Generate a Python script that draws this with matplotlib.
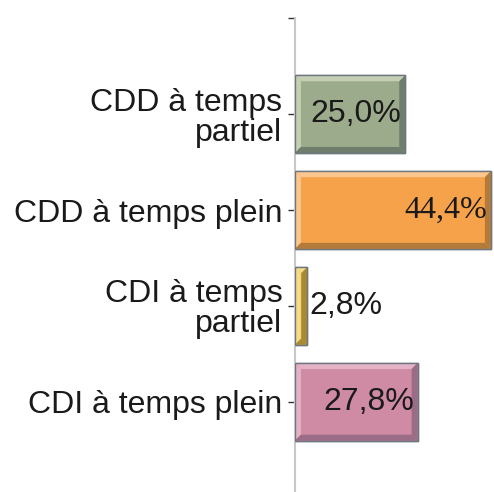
import numpy as np
import matplotlib.pyplot as plt
from matplotlib.patches import Polygon

plt.rcParams['font.serif'] = ['Liberation Serif', 'DejaVu Serif']

# data, bottom to top
categories = ['CDI à temps plein', 'CDI à temps\npartiel', 'CDD à temps plein', 'CDD à temps\npartiel']
values = [27.8, 2.8, 44.4, 25.0]
labels = ['27,8%', '2,8%', '44,4%', '25,0%']

face = ['#cf8ba4', '#e6bd3e', '#f5a24a', '#9cab8b']
light = ['#e3b2c6', '#f3db88', '#fbc78e', '#c5cfb4']
dark = ['#9a6c85', '#a98a32', '#b37a3a', '#6f7d6c']

fig = plt.figure(figsize=(4.94, 4.92), dpi=100)
ax = fig.add_axes([0.597, 0.0, 0.403, 0.963])

y = np.arange(len(categories))
h = 0.81
ax.barh(y, values, height=h, color=face, edgecolor='#6e7680', linewidth=1.0, zorder=2)

ax.set_xlim(0, 45.1)
ax.set_ylim(-0.94, 4)

# bevel effect, ~6 px wide
bx = 45.1 / (0.403 * 494) * 6
by = 4.94 / (0.963 * 492) * 6
for yi, v, lc, dc in zip(y, values, light, dark):
    x0, x1 = 0, v
    y0, y1 = yi - h / 2, yi + h / 2
    b = min(bx, v / 2)
    ax.add_patch(Polygon([(x0, y1), (x1, y1), (x1 - b, y1 - by), (x0 + b, y1 - by)], closed=True, color=lc, lw=0, zorder=3))
    ax.add_patch(Polygon([(x0, y0), (x0, y1), (x0 + b, y1 - by), (x0 + b, y0 + by)], closed=True, color=lc, lw=0, zorder=3))
    ax.add_patch(Polygon([(x0, y0), (x1, y0), (x1 - b, y0 + by), (x0 + b, y0 + by)], closed=True, color=dc, lw=0, zorder=3))
    ax.add_patch(Polygon([(x1, y0), (x1, y1), (x1 - b, y1 - by), (x1 - b, y0 + by)], closed=True, color=dc, lw=0, zorder=3))
    ax.add_patch(plt.Rectangle((x0, y0), v, h, fill=False, ec='#6e7680', lw=1.0, zorder=4))

for yi, v, t in zip(y, values, labels):
    if v > 10:
        txt = ax.text(v - 0.9, yi, t, ha='right', va='center', fontsize=23, color='#1a1a1a', zorder=5)
        if v > 40:
            txt.set_fontfamily('serif')
        else:
            txt.set_fontfamily('Liberation Sans')
    else:
        ax.text(v + 0.4, yi, t, ha='left', va='center', fontsize=23, color='#1a1a1a',
                fontfamily='Liberation Sans', zorder=5)

ax.set_yticks(list(y) + [4])
ax.set_yticklabels(categories + [''], fontsize=23, family='Liberation Sans', color='#1a1a1a', linespacing=1.0)
ax.tick_params(axis='y', length=5, width=1, color='#333333', pad=4)
ax.set_xticks([])
for s in ['top', 'right', 'bottom']:
    ax.spines[s].set_visible(False)
ax.spines['left'].set_color('#c8c8c8')
ax.spines['left'].set_linewidth(1.5)
ax.patch.set_visible(False)

plt.savefig('out.png', dpi=100)
